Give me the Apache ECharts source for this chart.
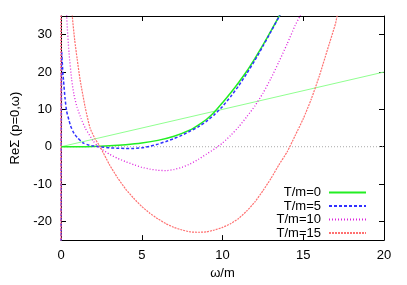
<!DOCTYPE html>
<html>
<head>
<meta charset="utf-8">
<script src="https://cdn.jsdelivr.net/npm/echarts@6/dist/echarts.min.js"></script>
<style>html,body{margin:0;padding:0;background:#fff;}#c{width:407px;height:285px;}</style>
</head>
<body>
<div id="c"></div>
<script>
// ---- data ----
const seriesNames = ['T/m=0', 'T/m=5', 'T/m=10', 'T/m=15'];
const xTicks = [0, 5, 10, 15, 20];
const yTicks = [-20, -10, 0, 10, 20, 30];

const omegaT0 = [0, 1, 2, 3, 4, 5, 6, 7, 8, 8.5, 9, 9.5, 10, 10.5, 11, 11.5, 12, 12.5, 13, 13.5, 14];
const reT0    = [0, 0, 0.05, 0.25, 0.55, 1.0, 1.7, 2.8, 4.5, 5.8, 7.3, 9.3, 11.8, 14.4, 17.2, 20.2, 23.6, 27.2, 31, 34.9, 39];

const omegaT5 = [0, 0.04, 0.1, 0.15, 0.25, 0.35, 0.5, 0.6, 0.75, 0.87, 1.0, 1.37, 1.75, 2, 2.5, 3, 3.5, 4, 4.5, 5, 5.5, 6, 6.5, 7, 7.5, 8, 8.5, 9, 9.5, 10, 10.5, 11, 11.5, 12, 12.5, 13, 13.5, 14];
const reT5    = [-40, 25.5, 21, 18, 13, 9.5, 7, 5.5, 4, 3.2, 2.5, 1.0, 0.4, 0.2, -0.05, -0.3, -0.4, -0.45, -0.45, -0.3, 0.1, 0.7, 1.4, 2.2, 3.1, 4.2, 5.3, 6.8, 8.6, 10.8, 13.4, 16.3, 19.6, 23.1, 26.9, 30.8, 34.8, 39];

const omegaT10 = [0, 0.02, 0.35, 0.5, 0.66, 0.8, 1, 1.25, 1.5, 2, 2.3, 2.5, 3, 3.5, 4, 4.5, 5, 5.5, 6, 6.5, 7, 7.5, 8, 8.5, 9, 9.5, 10, 10.5, 11, 11.5, 12, 12.5, 13, 13.5, 14, 14.5, 14.8, 15.2];
const reT10    = [-40, 80, 35, 25, 18, 14, 10.5, 7.5, 5, 1.5, 0, -0.6, -2.0, -3.1, -4.0, -4.8, -5.5, -6.0, -6.3, -6.4, -6.1, -5.5, -4.6, -3.4, -2.0, -0.6, 1.0, 3.0, 5.3, 8.0, 10.9, 14.3, 18.3, 22.8, 27.5, 32.5, 35, 39];

const omegaT15 = [0, 0.02, 0.7, 0.85, 1.0, 1.18, 1.5, 1.8, 2.1, 2.42, 3, 3.5, 4, 4.5, 5, 5.5, 6, 6.5, 7, 7.5, 8, 8.5, 9, 9.5, 10, 10.5, 11, 11.5, 12, 12.5, 13, 13.5, 14, 14.5, 15, 15.5, 16, 16.5, 17, 17.1, 17.5];
const reT15    = [-40, 80, 35, 28.5, 23.5, 18, 10.5, 5, 2.2, 0, -4.8, -8.3, -11.3, -13.8, -16, -17.8, -19.3, -20.6, -21.6, -22.3, -22.8, -22.9, -22.8, -22.3, -21.6, -20.6, -19.2, -17.2, -14.8, -11.8, -8.5, -4.8, -1.4, 3.0, 7.5, 12.8, 19, 26, 33, 35, 40];

const omegaLine = [0, 20];
const reLine    = [0, 20];
const zeroLineX = [0, 20];
const zeroLineY = [0, 0];

function pairs(xs, ys) { return xs.map((x, i) => [x, ys[i]]); }

const FONT = 'Liberation Sans';
const chart = echarts.init(document.getElementById('c'), null, { renderer: 'canvas' });

const baseLine = { show: true, onZero: false, lineStyle: { color: '#000', width: 1 } };
const tickIn = { show: true, inside: true, length: 5, lineStyle: { color: '#000', width: 1 } };

chart.setOption({
  animation: false,
  backgroundColor: '#fff',
  textStyle: { fontFamily: FONT },
  grid: { left: 61, right: 23, top: 16, bottom: 41, containLabel: false },
  xAxis: [
    {
      type: 'value', min: 0, max: 20, interval: 5, position: 'bottom',
      name: 'ω/m', nameLocation: 'middle', nameGap: 26,
      nameTextStyle: { color: '#000', fontSize: 13, fontFamily: FONT },
      axisLine: baseLine, axisTick: tickIn,
      axisLabel: { color: '#000', fontSize: 13, margin: 9, fontFamily: FONT },
      splitLine: { show: false }
    },
    {
      type: 'value', min: 0, max: 20, interval: 5, position: 'top',
      axisLine: baseLine, axisTick: tickIn,
      axisLabel: { show: false }, splitLine: { show: false }
    }
  ],
  yAxis: [
    {
      type: 'value', min: -25, max: 35, position: 'left',
      name: 'ReΣ (p=0,ω)', nameLocation: 'middle', nameGap: 34, nameRotate: 90,
      nameTextStyle: { color: '#000', fontSize: 13, fontFamily: FONT },
      axisLine: baseLine,
      axisTick: Object.assign({}, tickIn, { customValues: yTicks }),
      axisLabel: { color: '#000', fontSize: 13, margin: 9, fontFamily: FONT, customValues: yTicks },
      splitLine: { show: false }
    },
    {
      type: 'value', min: -25, max: 35, position: 'right',
      axisLine: baseLine,
      axisTick: Object.assign({}, tickIn, { customValues: yTicks }),
      axisLabel: { show: false, customValues: yTicks },
      splitLine: { show: false }
    }
  ],
  legend: {
    orient: 'vertical', right: 40, top: 186, align: 'right', padding: 0,
    itemWidth: 37, itemHeight: 10, itemGap: 0.5,
    itemStyle: { opacity: 0 },
    textStyle: { color: '#000', fontSize: 13, lineHeight: 13, fontFamily: FONT, padding: [0, 3, 0, 0] },
    data: seriesNames
  },
  series: [
    {
      name: 'zero', type: 'line', data: pairs(zeroLineX, zeroLineY), symbol: 'none', silent: true,
      lineStyle: { color: '#aaaaaa', width: 1, type: [1, 2] }, z: 1
    },
    {
      name: 'light', type: 'line', data: pairs(omegaLine, reLine), symbol: 'none', silent: true,
      lineStyle: { color: '#90ff90', width: 1 }, z: 2
    },
    {
      name: seriesNames[0], type: 'line', data: pairs(omegaT0, reT0), symbol: 'none', smooth: 0.2,
      color: '#22ee22', lineStyle: { color: '#22ee22', width: 1.5 }, z: 3
    },
    {
      name: seriesNames[1], type: 'line', data: pairs(omegaT5, reT5), symbol: 'none', smooth: 0.2,
      color: '#3030ff', lineStyle: { color: '#3030ff', width: 1.5, type: [3, 2] }, z: 4
    },
    {
      name: seriesNames[2], type: 'line', data: pairs(omegaT10, reT10), symbol: 'none', smooth: 0.2,
      color: '#dd22dd', lineStyle: { color: '#dd22dd', width: 1.3, type: [1, 2] }, z: 5
    },
    {
      name: seriesNames[3], type: 'line', data: pairs(omegaT15, reT15), symbol: 'none', smooth: 0.2,
      color: '#ff7070', lineStyle: { color: '#ff7070', width: 1.2, type: [2, 1] }, z: 6
    }
  ]
});
</script>
</body>
</html>
